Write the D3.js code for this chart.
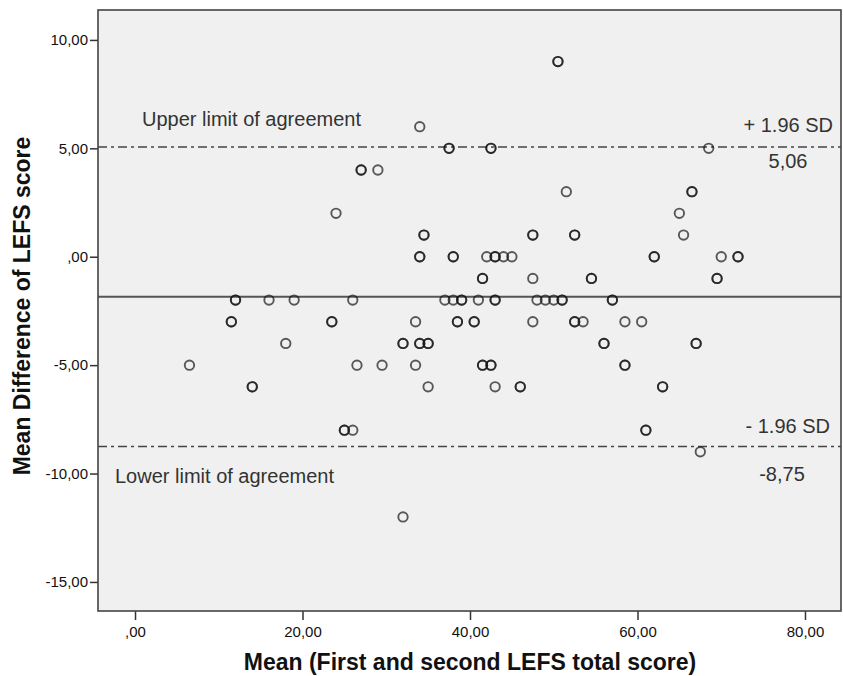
<!DOCTYPE html>
<html>
<head>
<meta charset="utf-8">
<script src="https://cdn.jsdelivr.net/npm/d3@7"></script>
<style>
  body { margin: 0; background: #fff; }
  svg { display: block; font-family: "Liberation Sans", Arial, sans-serif; }
  .tick text { font-size: 15px; fill: #111; }
  .tick line { stroke: #333; stroke-width: 1.5; }
  .axis-title { font-size: 23px; font-weight: bold; fill: #111; }
  .ref-label { font-size: 20px; fill: #333; }
</style>
</head>
<body>
<svg id="chart"></svg>
<script>
// Mean of the two LEFS totals (x) and their difference (y), one entry per subject.
// Darker circles in the picture are two subjects on the same spot, so they are listed twice.
const meanScores = [
  50.5, 50.5,
  34,
  37.5, 37.5, 42.5, 42.5, 68.5,
  27, 27, 29,
  51.5, 66.5, 66.5,
  24, 65,
  34.5, 34.5, 47.5, 47.5, 52.5, 52.5, 65.5,
  34, 34, 38, 38, 42, 43, 43, 44, 45, 62, 62, 70, 72, 72,
  41.5, 41.5, 47.5, 54.5, 54.5, 69.5, 69.5,
  12, 12, 16, 19, 26, 37, 38, 39, 39, 41, 43, 43, 48, 49, 50, 51, 51, 57, 57,
  11.5, 11.5, 23.5, 23.5, 33.5, 38.5, 38.5, 40.5, 40.5, 47.5, 52.5, 52.5, 53.5, 58.5, 60.5,
  18, 32, 32, 34, 34, 35, 35, 56, 56, 67, 67,
  6.5, 26.5, 29.5, 33.5, 41.5, 41.5, 42.5, 42.5, 58.5, 58.5,
  14, 14, 35, 43, 46, 46, 63, 63,
  25, 25, 26, 61, 61,
  67.5,
  32
];
const diffScores = [
  9, 9,
  6,
  5, 5, 5, 5, 5,
  4, 4, 4,
  3, 3, 3,
  2, 2,
  1, 1, 1, 1, 1, 1, 1,
  0, 0, 0, 0, 0, 0, 0, 0, 0, 0, 0, 0, 0, 0,
  -1, -1, -1, -1, -1, -1, -1,
  -2, -2, -2, -2, -2, -2, -2, -2, -2, -2, -2, -2, -2, -2, -2, -2, -2, -2, -2,
  -3, -3, -3, -3, -3, -3, -3, -3, -3, -3, -3, -3, -3, -3, -3,
  -4, -4, -4, -4, -4, -4, -4, -4, -4, -4, -4,
  -5, -5, -5, -5, -5, -5, -5, -5, -5, -5,
  -6, -6, -6, -6, -6, -6, -6, -6,
  -8, -8, -8, -8, -8,
  -9,
  -12
];

const meanDiff = -1.845;
const upperLimit = 5.06;
const lowerLimit = -8.75;

const xTicks = [0, 20, 40, 60, 80];
const yTicks = [10, 5, 0, -5, -10, -15];
const xDomain = [-4.42, 84.3];
const yDomain = [-16.34, 11.38];

const xTitle = 'Mean (First and second LEFS total score)';
const yTitle = 'Mean Difference of LEFS score';

class BlandAltman {
  constructor(_config, _data) {
    this.config = {
      parentElement: _config.parentElement,
      containerWidth: _config.containerWidth || 843,
      containerHeight: _config.containerHeight || 676,
      margin: _config.margin || { top: 10, right: 2, bottom: 65, left: 98 }
    }
    this.data = _data;
    this.initVis();
  }

  initVis() {
    let vis = this;

    vis.width = vis.config.containerWidth - vis.config.margin.left - vis.config.margin.right;
    vis.height = vis.config.containerHeight - vis.config.margin.top - vis.config.margin.bottom;

    vis.xScale = d3.scaleLinear().domain(xDomain).range([0, vis.width]);
    vis.yScale = d3.scaleLinear().domain(yDomain).range([vis.height, 0]);

    // SPSS style numbers: comma decimal, zero drawn as ",00"
    const fmt = d => d === 0 ? ',00' : d.toFixed(2).replace('.', ',');

    vis.xAxis = d3.axisBottom(vis.xScale)
      .tickValues(xTicks)
      .tickSize(9)
      .tickPadding(6)
      .tickFormat(fmt);

    vis.yAxis = d3.axisLeft(vis.yScale)
      .tickValues(yTicks)
      .tickSize(8)
      .tickPadding(2)
      .tickFormat(fmt);

    vis.svg = d3.select(vis.config.parentElement)
      .attr('width', vis.config.containerWidth)
      .attr('height', vis.config.containerHeight);

    vis.chart = vis.svg.append('g')
      .attr('transform', `translate(${vis.config.margin.left},${vis.config.margin.top})`);

    vis.chart.append('rect')
      .attr('width', vis.width)
      .attr('height', vis.height)
      .attr('fill', '#f0f0f0');

    vis.xAxisG = vis.chart.append('g')
      .attr('class', 'axis x-axis')
      .attr('transform', `translate(0,${vis.height})`);

    vis.yAxisG = vis.chart.append('g')
      .attr('class', 'axis y-axis');

    vis.svg.append('text')
      .attr('class', 'axis-title')
      .attr('x', 470)
      .attr('y', 670)
      .style('text-anchor', 'middle')
      .text(xTitle);

    vis.svg.append('text')
      .attr('class', 'axis-title')
      .attr('transform', `translate(30,${vis.config.margin.top + 296}) rotate(-90)`)
      .style('text-anchor', 'middle')
      .text(yTitle);
  }

  renderVis() {
    let vis = this;
    const x = vis.xScale, y = vis.yScale;

    // limits of agreement
    vis.chart.selectAll('.limit')
      .data([upperLimit, lowerLimit])
      .join('line')
      .attr('class', 'limit')
      .attr('x1', 0)
      .attr('x2', vis.width)
      .attr('y1', d => y(d))
      .attr('y2', d => y(d))
      .attr('stroke', '#444')
      .attr('stroke-width', 1.4)
      .attr('stroke-dasharray', '9,4,3,4');

    vis.chart.append('line')
      .attr('x1', 0)
      .attr('x2', vis.width)
      .attr('y1', y(meanDiff))
      .attr('y2', y(meanDiff))
      .attr('stroke', '#555')
      .attr('stroke-width', 2);

    vis.chart.selectAll('.point')
      .data(vis.data)
      .join('circle')
      .attr('class', 'point')
      .attr('cx', d => x(d.mean))
      .attr('cy', d => y(d.diff))
      .attr('r', 4.7)
      .attr('fill', 'none')
      .attr('stroke', '#151515')
      .attr('stroke-opacity', 0.7)
      .attr('stroke-width', 1.9);

    const labels = [
      { text: 'Upper limit of agreement', x: x(xDomain[0]) + 44, y: y(upperLimit) - 21, anchor: 'start' },
      { text: '+ 1.96 SD', x: vis.width - 8, y: y(upperLimit) - 15, anchor: 'end' },
      { text: '5,06', x: vis.width - 53, y: y(upperLimit) + 21, anchor: 'middle' },
      { text: 'Lower limit of agreement', x: x(xDomain[0]) + 17, y: y(lowerLimit) + 37, anchor: 'start' },
      { text: '- 1.96 SD', x: vis.width - 11, y: y(lowerLimit) - 13, anchor: 'end' },
      { text: '-8,75', x: vis.width - 59, y: y(lowerLimit) + 35, anchor: 'middle' }
    ];
    vis.chart.selectAll('.ref-label')
      .data(labels)
      .join('text')
      .attr('class', 'ref-label')
      .attr('x', d => d.x)
      .attr('y', d => d.y)
      .style('text-anchor', d => d.anchor)
      .text(d => d.text);

    vis.chart.append('rect')
      .attr('width', vis.width)
      .attr('height', vis.height)
      .attr('fill', 'none')
      .attr('stroke', '#444')
      .attr('stroke-width', 1.6);

    vis.xAxisG.call(vis.xAxis)
      .call(g => g.select('.domain').remove());
    vis.yAxisG.call(vis.yAxis)
      .call(g => g.select('.domain').remove());
  }
}

const points = meanScores.map((m, i) => ({ mean: m, diff: diffScores[i] }));
const plot = new BlandAltman({ parentElement: '#chart' }, points);
plot.renderVis();
</script>
</body>
</html>
